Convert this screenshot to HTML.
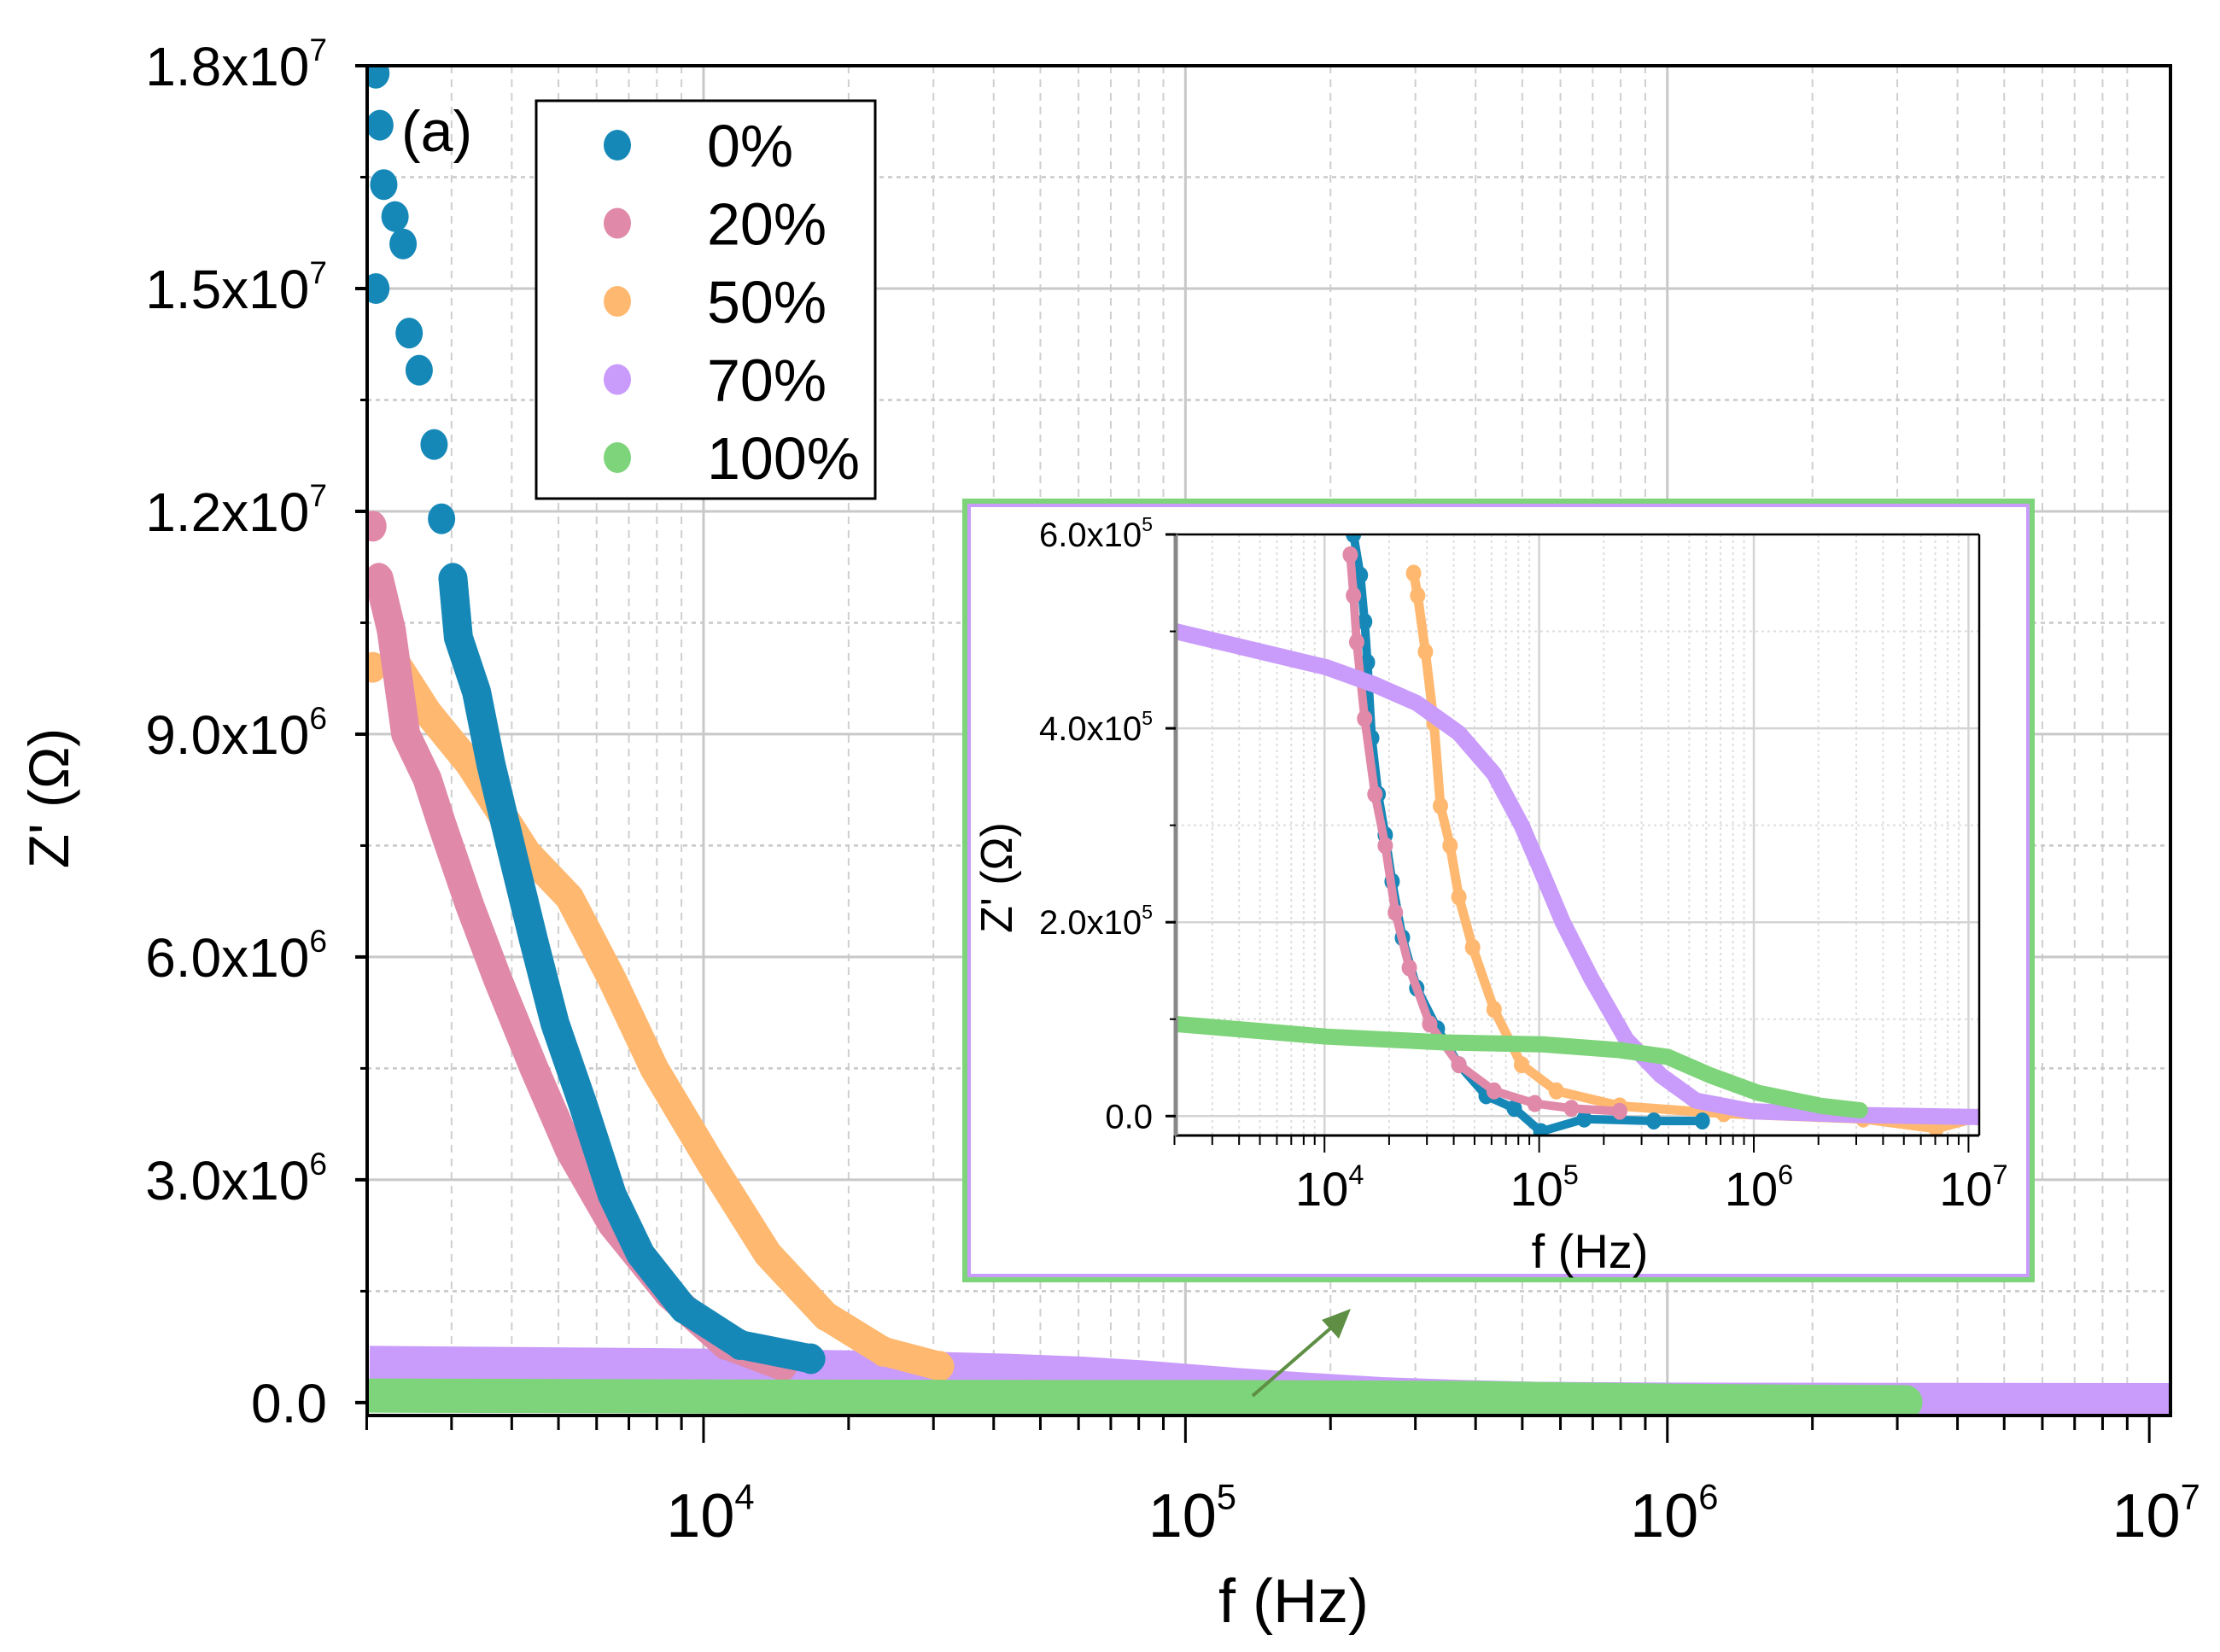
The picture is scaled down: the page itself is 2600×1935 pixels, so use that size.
<!DOCTYPE html>
<html><head><meta charset="utf-8"><style>
html,body{margin:0;padding:0;background:#fff;}
svg{display:block;font-family:"Liberation Sans",Arial,sans-serif;}
</style></head><body>
<svg id="chart" width="2600" height="1935" viewBox="0 0 2600 1935" xmlns="http://www.w3.org/2000/svg">
<defs>
<clipPath id="mainClip"><rect x="430" y="77" width="2112" height="1581"/></clipPath>
<clipPath id="insetClip"><rect x="1377" y="626" width="941" height="704"/></clipPath>
</defs>
<rect width="2600" height="1935" fill="#fff"/>
<g id="main"></g>
<g id="inset"></g>
</svg>
<script>
// ---------- DATA ----------
const seriesNames = ["0%","20%","50%","70%","100%"];
const mainYTicks = [0, 3e6, 6e6, 9e6, 1.2e7, 1.5e7, 1.8e7];
const mainYTickLabels = ["0.0","3.0x10|6","6.0x10|6","9.0x10|6","1.2x10|7","1.5x10|7","1.8x10|7"];
const xDecades = [4,5,6,7];
const insetYTicks = [0, 2e5, 4e5, 6e5];
const insetYTickLabels = ["0.0","2.0x10|5","4.0x10|5","6.0x10|5"];

// main panel series (f in Hz, Z' in ohm)
const blueF = [2090,2130,2170,2290,2380,2090,2450,2570,2760,2860,3020,3100,3380,3620,4010,4450,4920,5630,6460,7400,9080,11900,16700];
const blueZ = [17.9e6,17.2e6,16.4e6,15.97e6,15.6e6,15.0e6,14.4e6,13.9e6,12.9e6,11.9e6,11.1e6,10.3e6,9.57e6,8.6e6,7.4e6,6.2e6,5.1e6,4.0e6,2.8e6,2.0e6,1.27e6,0.78e6,0.59e6];
const pinkF = [2060,2120,2250,2410,2670,2860,3270,3740,4450,5270,6460,8470,11100,14600];
const pinkZ = [11.8e6,11.1e6,10.4e6,9.0e6,8.4e6,7.8e6,6.7e6,5.7e6,4.5e6,3.4e6,2.4e6,1.46e6,0.78e6,0.49e6];
const orangeF = [2060,2330,2670,3270,4300,5270,6460,7900,10400,13600,17900,23600,30900];
const orangeZ = [9.9e6,9.9e6,9.3e6,8.6e6,7.4e6,6.8e6,5.7e6,4.5e6,3.2e6,2.0e6,1.17e6,0.69e6,0.49e6];

// 70% and 100% (shared by main and inset)
const purpleLogF = [3.307,4.008,4.235,4.43,4.626,4.79,4.918,5.0,5.11,5.243,5.406,5.567,5.73,5.99,6.51,7.05];
const purpleZ = [5.0e5,4.63e5,4.45e5,4.26e5,3.95e5,3.53e5,3.0e5,2.58e5,2.0e5,1.42e5,0.79e5,0.42e5,0.16e5,0.05e5,0.01e5,-0.01e5];
const greenLogF = [3.307,4.008,4.558,5.016,5.375,5.60,5.797,6.02,6.315,6.494];
const greenZ = [0.95e5,0.82e5,0.76e5,0.74e5,0.68e5,0.61e5,0.42e5,0.24e5,0.105e5,0.06e5];

// inset low-range series
const insetBlueLogF = [4.135,4.167,4.187,4.2,4.22,4.25,4.283,4.315,4.363,4.43,4.526,4.626,4.753,4.884,5.008,5.21,5.534,5.76];
const insetBlueZ = [6.0e5,5.58e5,5.1e5,4.68e5,3.9e5,3.32e5,2.9e5,2.42e5,1.84e5,1.32e5,0.9e5,0.53e5,0.21e5,0.08e5,-0.16e5,-0.03e5,-0.05e5,-0.05e5];
const insetPinkLogF = [4.12,4.135,4.15,4.187,4.235,4.283,4.33,4.395,4.49,4.626,4.79,4.98,5.15,5.375];
const insetPinkZ = [5.79e5,5.37e5,4.89e5,4.1e5,3.32e5,2.79e5,2.1e5,1.53e5,0.95e5,0.53e5,0.26e5,0.13e5,0.08e5,0.05e5];
const insetOrangeLogF = [4.415,4.434,4.47,4.51,4.54,4.585,4.626,4.69,4.79,4.918,5.08,5.375,5.86,6.51,6.85,7.05];
const insetOrangeZ = [5.6e5,5.37e5,4.79e5,4.05e5,3.2e5,2.79e5,2.26e5,1.74e5,1.1e5,0.53e5,0.26e5,0.105e5,0.026e5,-0.03e5,-0.13e5,-0.01e5];

const colors = {blue:"#1688b8", pink:"#e089a8", orange:"#ffb870", purple:"#c99bfb", green:"#7ed47a"};
const NS = "http://www.w3.org/2000/svg";
function mk(parent, tag, attrs){const e=document.createElementNS(NS,tag);for(const k in attrs)e.setAttribute(k,attrs[k]);parent.appendChild(e);return e;}
function supText(parent, x, y, label, size, anchor){
  const parts = label.split("|");
  const t = mk(parent,"text",{x:x,y:y,"font-size":size,"text-anchor":anchor,fill:"#000"});
  t.appendChild(document.createTextNode(parts[0]));
  if(parts[1]){const s=mk(t,"tspan",{"font-size":size*0.58,dy:-size*0.45});s.textContent=parts[1];}
  return t;
}

// ---------- MAIN ----------
const M = {l:430, r:2542, t:77, b:1658, lx0:3.302, lx1:7.044, y0:-1.74e5, y1:1.8e7};
const mx = lf => M.l + (lf-M.lx0)/(M.lx1-M.lx0)*(M.r-M.l);
const my = v => M.b - (v-M.y0)/(M.y1-M.y0)*(M.b-M.t);
const main = document.getElementById("main");

const mg = mk(main,"g",{});


for(let d=3; d<7; d++){for(let k=1;k<10;k++){const lf=d+Math.log10(k); if(lf<M.lx0||lf>M.lx1) continue;
  const X=mx(lf); mk(mg,"line",{x1:X,y1:M.t,x2:X,y2:M.b,stroke:k===1?"#c8c8c8":"#cfcfcf","stroke-width":k===1?3:2,"stroke-dasharray":k===1?"none":"9 7"});}}
for(let i=0;i<mainYTicks.length;i++){const Y=my(mainYTicks[i]); mk(mg,"line",{x1:M.l,y1:Y,x2:M.r,y2:Y,stroke:"#c8c8c8","stroke-width":3});
  if(i<mainYTicks.length-1){const Ym=my((mainYTicks[i]+mainYTicks[i+1])/2); mk(mg,"line",{x1:M.l,y1:Ym,x2:M.r,y2:Ym,stroke:"#c8c8c8","stroke-width":2.5,"stroke-dasharray":"5 5"});}}

const md = mk(main,"g",{"clip-path":"url(#mainClip)"});


function drawMainDots(F,Z,col,name,denseFrom){
  const g=mk(md,"g",{});
  
  
  const pts=[];
  for(let i=0;i<F.length;i++){const X=mx(Math.log10(F[i])),Y=my(Z[i]); if(i>=denseFrom)pts.push(X+","+Y);
    mk(g,"ellipse",{cx:X,cy:Y,rx:16,ry:18,fill:col});}
  if(pts.length>1) mk(g,"polyline",{points:pts.join(" "),fill:"none",stroke:col,"stroke-width":34,"stroke-linejoin":"round","stroke-linecap":"round"});
}
function drawMainBand(LF,Z,col,name,w,endCap){
  const pts=LF.map((lf,i)=>mx(lf)+","+my(Z[i]));
  const p=mk(md,"polyline",{points:pts.join(" "),fill:"none",stroke:col,"stroke-width":w,"stroke-linejoin":"round","stroke-linecap":endCap});
  
  
}
drawMainBand(purpleLogF.concat([7.1]),purpleZ.concat([purpleZ[purpleZ.length-1]]),colors.purple,"series-70pct",46,"butt");
drawMainDots(orangeF,orangeZ,colors.orange,"series-50pct",1);
drawMainDots(pinkF,pinkZ,colors.pink,"series-20pct",1);
drawMainDots(blueF,blueZ,colors.blue,"series-0pct",10);
drawMainBand(purpleLogF.slice(4).concat([7.1]),purpleZ.slice(4).concat([0]),colors.purple,"series-70pct-tail",40,"butt");
drawMainBand(greenLogF,greenZ,colors.green,"series-100pct",40,"round");

// axes
const ma = mk(main,"g",{});


mk(ma,"rect",{x:M.l,y:M.t,width:M.r-M.l,height:M.b-M.t,fill:"none",stroke:"#000","stroke-width":4});
for(let d=3; d<8; d++){for(let k=1;k<10;k++){const lf=d+Math.log10(k); if(lf<M.lx0-0.001||lf>M.lx1) continue;
  const X=mx(lf); mk(ma,"line",{x1:X,y1:M.b,x2:X,y2:M.b+(k===1?32:17),stroke:"#000","stroke-width":3});}}
for(let i=0;i<mainYTicks.length;i++){const Y=my(mainYTicks[i]); mk(ma,"line",{x1:M.l-14,y1:Y,x2:M.l,y2:Y,stroke:"#000","stroke-width":4});
  if(i<mainYTicks.length-1){const Ym=my((mainYTicks[i]+mainYTicks[i+1])/2); mk(ma,"line",{x1:M.l-8,y1:Ym,x2:M.l,y2:Ym,stroke:"#000","stroke-width":3});}
  const t=supText(ma,383,Y+23,mainYTickLabels[i],64,"end");
  
  }
for(const d of xDecades){const t=supText(ma,mx(d)+8,1800,"10|"+d,72,"middle");
  
  }
const xt=mk(ma,"text",{x:1515,y:1900,"font-size":72,"text-anchor":"middle"}); xt.textContent="f (Hz)";


const yt=mk(ma,"text",{x:0,y:0,"font-size":66,"text-anchor":"middle",transform:"translate(80,935) rotate(-90)"}); yt.textContent="Z' (Ω)";


const pl=mk(ma,"text",{x:470,y:177,"font-size":68}); pl.textContent="(a)";



// legend
const lg=mk(main,"g",{});


mk(lg,"rect",{x:628,y:118,width:397,height:466,fill:"#fff",stroke:"#000","stroke-width":3});
const legCols=[colors.blue,colors.pink,colors.orange,colors.purple,colors.green];
for(let i=0;i<seriesNames.length;i++){const Y=170+i*91.5;
  const e=mk(lg,"g",{});
  
  
  mk(e,"ellipse",{cx:723,cy:Y,rx:16,ry:18,fill:legCols[i]});
  const t=mk(e,"text",{x:828,y:Y+25,"font-size":70}); t.textContent=seriesNames[i];}

// arrow
const ar=mk(main,"g",{});


mk(ar,"line",{x1:1467,y1:1635,x2:1565,y2:1550,stroke:"#5e8f45","stroke-width":4});
mk(ar,"polygon",{points:"1582,1533 1548,1546 1568,1568",fill:"#5e8f45"});

// ---------- INSET ----------
const I = {l:1377, r:2318, t:626, b:1330, lx0:3.307, lx1:7.05, y0:-0.2e5, y1:6.0e5};
const ix = lf => I.l + (lf-I.lx0)/(I.lx1-I.lx0)*(I.r-I.l);
const iy = v => I.b - (v-I.y0)/(I.y1-I.y0)*(I.b-I.t);
const inset=document.getElementById("inset");
const fr=mk(inset,"g",{});


mk(fr,"rect",{x:1130,y:587,width:1250,height:912,fill:"#fff",stroke:"#7ed47a","stroke-width":6});
mk(fr,"rect",{x:1135,y:592,width:1240,height:902,fill:"none",stroke:"#c99bfb","stroke-width":4});

const ig=mk(inset,"g",{});


for(let d=3; d<8; d++){for(let k=1;k<10;k++){const lf=d+Math.log10(k); if(lf<I.lx0||lf>I.lx1) continue;
  const X=ix(lf); mk(ig,"line",{x1:X,y1:I.t,x2:X,y2:I.b,stroke:k===1?"#d4d4d4":"#dedede","stroke-width":k===1?2.5:2,"stroke-dasharray":k===1?"none":"3 4"});}}
for(let i=0;i<insetYTicks.length;i++){const Y=iy(insetYTicks[i]); mk(ig,"line",{x1:I.l,y1:Y,x2:I.r,y2:Y,stroke:"#d4d4d4","stroke-width":2.5});
  if(i<insetYTicks.length-1){const Ym=iy((insetYTicks[i]+insetYTicks[i+1])/2); mk(ig,"line",{x1:I.l,y1:Ym,x2:I.r,y2:Ym,stroke:"#dedede","stroke-width":2,"stroke-dasharray":"3 4"});}}

const idg=mk(inset,"g",{"clip-path":"url(#insetClip)"});


function insetSeries(LF,Z,col,name,w,dots){
  const g=mk(idg,"g",{});
  
  
  const pts=LF.map((lf,i)=>ix(lf)+","+iy(Z[i]));
  mk(g,"polyline",{points:pts.join(" "),fill:"none",stroke:col,"stroke-width":w,"stroke-linejoin":"round","stroke-linecap":"round"});
  if(dots) LF.forEach((lf,i)=>mk(g,"ellipse",{cx:ix(lf),cy:iy(Z[i]),rx:9,ry:10,fill:col}));
}
insetSeries(insetOrangeLogF,insetOrangeZ,colors.orange,"inset-series-50pct",11,true);
insetSeries(insetBlueLogF,insetBlueZ,colors.blue,"inset-series-0pct",10,true);
insetSeries(insetPinkLogF,insetPinkZ,colors.pink,"inset-series-20pct",10,true);
insetSeries(purpleLogF,purpleZ,colors.purple,"inset-series-70pct",19,false);
insetSeries(greenLogF,greenZ,colors.green,"inset-series-100pct",19,false);

const ia=mk(inset,"g",{});


mk(ia,"line",{x1:I.l,y1:I.t,x2:I.r,y2:I.t,stroke:"#000","stroke-width":2.5});
mk(ia,"line",{x1:I.r,y1:I.t,x2:I.r,y2:I.b,stroke:"#000","stroke-width":2.5});
mk(ia,"line",{x1:I.l,y1:I.b,x2:I.r,y2:I.b,stroke:"#000","stroke-width":3});
mk(ia,"line",{x1:I.l,y1:I.t,x2:I.l,y2:I.b,stroke:"#888","stroke-width":5});
for(let d=3; d<8; d++){for(let k=1;k<10;k++){const lf=d+Math.log10(k); if(lf<I.lx0-0.01||lf>I.lx1) continue;
  const X=ix(lf); mk(ia,"line",{x1:X,y1:I.b,x2:X,y2:I.b+(k===1?20:11),stroke:"#000","stroke-width":2});}}
for(let i=0;i<insetYTicks.length;i++){const Y=iy(insetYTicks[i]); mk(ia,"line",{x1:I.l-12,y1:Y,x2:I.l,y2:Y,stroke:"#000","stroke-width":3});
  if(i<insetYTicks.length-1){const Ym=iy((insetYTicks[i]+insetYTicks[i+1])/2); mk(ia,"line",{x1:I.l-7,y1:Ym,x2:I.l,y2:Ym,stroke:"#000","stroke-width":2});}
  const t=supText(ia,1350,Y+14,insetYTickLabels[i],40,"end");
  
  }
for(const d of xDecades){const t=supText(ia,ix(d)+6,1412,"10|"+d,56,"middle");
  
  }
const ixt=mk(ia,"text",{x:1862,y:1485,"font-size":56,"text-anchor":"middle"}); ixt.textContent="f (Hz)";


const iyt=mk(ia,"text",{x:0,y:0,"font-size":52,"text-anchor":"middle",transform:"translate(1185,1028) rotate(-90)"}); iyt.textContent="Z' (Ω)";


</script>
</body></html>
